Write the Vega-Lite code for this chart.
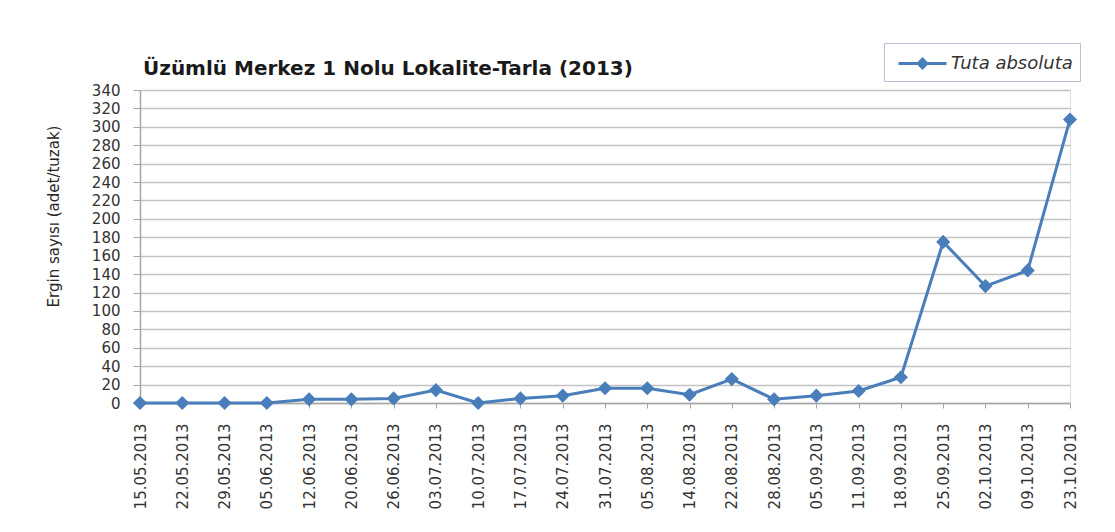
{
  "$schema": "https://vega.github.io/schema/vega-lite/v6.json",
  "autosize": {"type": "none"},
  "width": 930,
  "height": 313,
  "padding": {"left": 140, "top": 90, "right": 45, "bottom": 129},
  "background": "white",
  "title": {
    "text": "Üzümlü Merkez 1 Nolu Lokalite-Tarla (2013)",
    "anchor": "start",
    "frame": "group",
    "font": "DejaVu Sans",
    "fontSize": 20,
    "fontWeight": "bold",
    "color": "#1a1a1a",
    "offset": 14,
    "dx": 3,
    "dy": 50
  },
  "data": {
    "values": [
      {"tarih": "15.05.2013", "ergin": 0, "tur": "Tuta absoluta"},
      {"tarih": "22.05.2013", "ergin": 0, "tur": "Tuta absoluta"},
      {"tarih": "29.05.2013", "ergin": 0, "tur": "Tuta absoluta"},
      {"tarih": "05.06.2013", "ergin": 0, "tur": "Tuta absoluta"},
      {"tarih": "12.06.2013", "ergin": 4, "tur": "Tuta absoluta"},
      {"tarih": "20.06.2013", "ergin": 4, "tur": "Tuta absoluta"},
      {"tarih": "26.06.2013", "ergin": 5, "tur": "Tuta absoluta"},
      {"tarih": "03.07.2013", "ergin": 14, "tur": "Tuta absoluta"},
      {"tarih": "10.07.2013", "ergin": 0, "tur": "Tuta absoluta"},
      {"tarih": "17.07.2013", "ergin": 5, "tur": "Tuta absoluta"},
      {"tarih": "24.07.2013", "ergin": 8, "tur": "Tuta absoluta"},
      {"tarih": "31.07.2013", "ergin": 16, "tur": "Tuta absoluta"},
      {"tarih": "05.08.2013", "ergin": 16, "tur": "Tuta absoluta"},
      {"tarih": "14.08.2013", "ergin": 9, "tur": "Tuta absoluta"},
      {"tarih": "22.08.2013", "ergin": 26, "tur": "Tuta absoluta"},
      {"tarih": "28.08.2013", "ergin": 4, "tur": "Tuta absoluta"},
      {"tarih": "05.09.2013", "ergin": 8, "tur": "Tuta absoluta"},
      {"tarih": "11.09.2013", "ergin": 13, "tur": "Tuta absoluta"},
      {"tarih": "18.09.2013", "ergin": 28, "tur": "Tuta absoluta"},
      {"tarih": "25.09.2013", "ergin": 175, "tur": "Tuta absoluta"},
      {"tarih": "02.10.2013", "ergin": 127, "tur": "Tuta absoluta"},
      {"tarih": "09.10.2013", "ergin": 144, "tur": "Tuta absoluta"},
      {"tarih": "23.10.2013", "ergin": 308, "tur": "Tuta absoluta"}
    ]
  },
  "mark": {
    "type": "line",
    "strokeWidth": 3,
    "point": {"shape": "diamond", "size": 200, "filled": true}
  },
  "encoding": {
    "x": {
      "field": "tarih",
      "type": "ordinal",
      "sort": null,
      "scale": {"type": "point", "padding": 0},
      "axis": {
        "title": null,
        "labelAngle": -90,
        "labelFont": "DejaVu Sans",
        "labelFontSize": 15,
        "labelColor": "#333333",
        "labelPadding": 15,
        "tickSize": 5,
        "tickColor": "#a6a6a6",
        "domainColor": "#a6a6a6",
        "domainWidth": 1.5,
        "grid": false
      }
    },
    "y": {
      "field": "ergin",
      "type": "quantitative",
      "scale": {"domain": [0, 340], "nice": false},
      "axis": {
        "values": [0, 20, 40, 60, 80, 100, 120, 140, 160, 180, 200, 220, 240, 260, 280, 300, 320, 340],
        "grid": true,
        "gridColor": "#c3c3c3",
        "gridWidth": 1.5,
        "domainColor": "#a6a6a6",
        "domainWidth": 1.5,
        "tickColor": "#a6a6a6",
        "tickSize": 7,
        "labelFont": "DejaVu Sans",
        "labelFontSize": 15,
        "labelColor": "#333333",
        "labelPadding": 13,
        "title": "Ergin sayısı (adet/tuzak)",
        "titleFont": "DejaVu Sans",
        "titleFontSize": 15,
        "titleFontWeight": "normal",
        "titleColor": "#262626",
        "titleAngle": -90,
        "titleAlign": "center",
        "titleBaseline": "middle",
        "titleX": -87,
        "titleY": 126
      }
    },
    "color": {
      "field": "tur",
      "type": "nominal",
      "scale": {"range": ["#4A7EBB"]},
      "legend": {
        "title": null,
        "orient": "none",
        "legendX": 744,
        "legendY": -47,
        "fillColor": "white",
        "strokeColor": "#b9c2d4",
        "padding": 7,
        "symbolType": "M-2,0H2M0,-0.36L0.36,0L0,0.36L-0.36,0Z",
        "symbolSize": 576,
        "symbolStrokeWidth": 3,
        "symbolFillColor": "#4A7EBB",
        "symbolStrokeColor": "#4A7EBB",
        "symbolOffset": 18,
        "labelFont": "DejaVu Sans",
        "labelFontStyle": "italic",
        "labelFontSize": 18,
        "labelColor": "#333333",
        "labelOffset": 15
      }
    }
  }
}
